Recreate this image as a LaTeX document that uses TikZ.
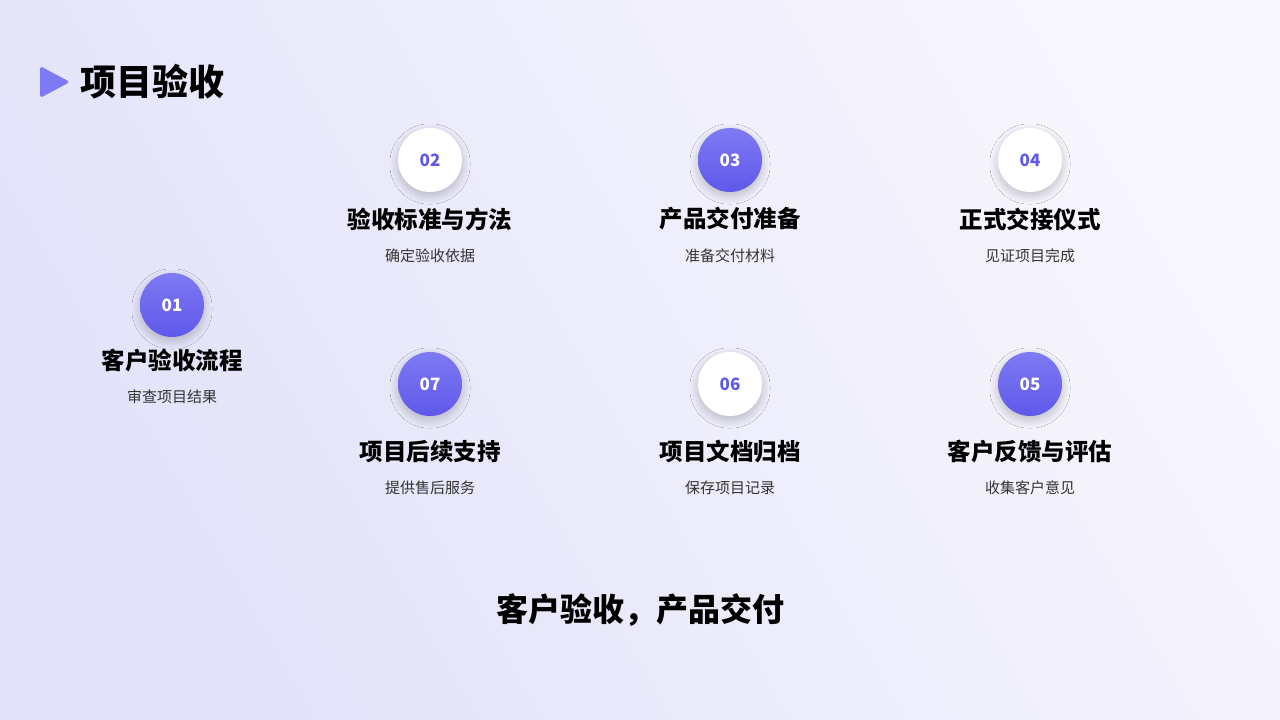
\documentclass[tikz,border=0pt]{standalone}
\usepackage{fontspec}
\newfontfamily\cjk{Noto Sans CJK SC}
\usetikzlibrary{positioning,arrows.meta,shadows.blur}
\definecolor{bgA}{HTML}{E2E2FA}
\definecolor{bgB}{HTML}{F8F7FD}
\definecolor{violet}{HTML}{5F58EA}
\definecolor{violetL}{HTML}{7E7AF3}
\definecolor{dashgray}{HTML}{B4B6C8}
\definecolor{shade}{HTML}{8A86E0}
\pgfdeclarelayer{links}
\pgfsetlayers{links,main}
\tikzset{
  stepbase/.style={circle, minimum size=64pt, inner sep=0pt,
    font=\cjk\bfseries\fontsize{17}{17}\selectfont,
    blur shadow={shadow xshift=0pt, shadow yshift=-4pt, shadow blur radius=8pt,
      shadow blur steps=14, shadow opacity=22, shadow blur extra rounding=2pt}},
  stepfull/.style={stepbase, top color=violetL, bottom color=violet, text=white},
  stepwhite/.style={stepbase, fill=white, text=violet},
  steptitle/.style={font=\cjk\bfseries\fontsize{23.5}{24}\selectfont, text=black},
  stepsub/.style={font=\cjk\fontsize{15}{15}\selectfont, text=black!80},
  link/.style={draw=dashgray, dashed, thick}
}
\begin{document}
\begin{tikzpicture}[x=1pt,y=1pt]
  % background
  \shade[left color=bgA, right color=bgB, shading angle=120] (0,0) rectangle (1280,-720);
  \useasboundingbox (0,0) rectangle (1280,-720);

  % header
  \fill[violetL, rounded corners=3pt] (40,-66) -- (40,-98) -- (70,-82) -- cycle;
  \node[anchor=west, font=\cjk\bfseries\fontsize{36}{36}\selectfont] (head) at (77,-82) {项目验收};

  % steps
  \node[stepfull]  (s01) at (172,-305) {01};
  \node[stepwhite] (s02) at (430,-160) {02};
  \node[stepfull]  (s03) at (730,-160) {03};
  \node[stepwhite] (s04) at (1030,-160) {04};
  \node[stepfull]  (s05) at (1030,-384) {05};
  \node[stepwhite] (s06) at (730,-384) {06};
  \node[stepfull]  (s07) at (430,-384) {07};

  % links
  \begin{pgfonlayer}{links}
    \draw[link, -{Stealth[length=6pt]}] (s02.west) -- ++(-140,0) to[out=180,in=90] (s01.north);
    \draw[link] (s02) -- (s03);
    \draw[link] (s03) -- (s04);
    \draw[link] (s04.east) to[out=0,in=0,looseness=1.9] (s05.east);
    \draw[link] (s05) -- (s06);
    \draw[link] (s06) -- (s07);
  \end{pgfonlayer}

  % labels
  \node[steptitle] (t01) at (172,-361) {客户验收流程};
  \node[stepsub]   (u01) at (172,-397) {审查项目结果};
  \node[steptitle] (t02) at (430,-219) {验收标准与方法};
  \node[stepsub]   (u02) at (430,-256) {确定验收依据};
  \node[steptitle] (t03) at (730,-219) {产品交付准备};
  \node[stepsub]   (u03) at (730,-256) {准备交付材料};
  \node[steptitle] (t04) at (1030,-219) {正式交接仪式};
  \node[stepsub]   (u04) at (1030,-256) {见证项目完成};
  \node[steptitle] (t05) at (1030,-452) {客户反馈与评估};
  \node[stepsub]   (u05) at (1030,-488) {收集客户意见};
  \node[steptitle] (t06) at (730,-452) {项目文档归档};
  \node[stepsub]   (u06) at (730,-488) {保存项目记录};
  \node[steptitle] (t07) at (430,-452) {项目后续支持};
  \node[stepsub]   (u07) at (430,-488) {提供售后服务};

  % footer
  \node[font=\cjk\bfseries\fontsize{32}{32}\selectfont] (foot) at (640,-610) {客户验收，产品交付};
\end{tikzpicture}
\end{document}
